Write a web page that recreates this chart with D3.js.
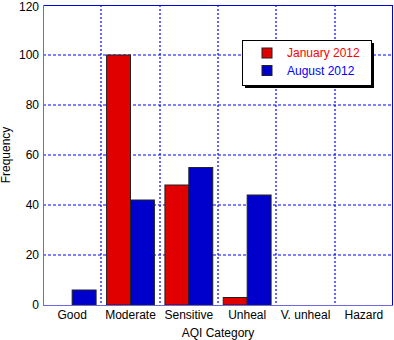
<!DOCTYPE html>
<html>
<head>
<meta charset="utf-8">
<script src="https://cdn.jsdelivr.net/npm/d3@7"></script>
<style>
  body { margin: 0; background: #fff; }
  svg { display: block; font-family: "Liberation Sans", Arial, sans-serif; }
</style>
</head>
<body>
<svg id="chart" width="394" height="340"></svg>
<script>
// data
var categories = ['Good', 'Moderate', 'Sensitive', 'Unheal', 'V. unheal', 'Hazard'];
var seriesNames = ['January 2012', 'August 2012'];
var january = [0, 100, 48, 3, 0, 0];
var august = [6, 42, 55, 44, 0, 0];
var yTicks = [0, 20, 40, 60, 80, 100, 120];
var colors = ['#e00000', '#0000cc'];

var svg = d3.select('#chart');
var margin = {top: 5, right: 1, bottom: 35, left: 43};
var width = +svg.attr('width') - margin.left - margin.right;
var height = +svg.attr('height') - margin.top - margin.bottom;

var g = svg.append('g')
  .attr('transform', 'translate(' + margin.left + ',' + margin.top + ')');

var x = d3.scaleBand().domain(categories).range([0, width]).paddingInner(0).paddingOuter(0);
var xInner = d3.scaleBand().domain([0, 1]).range([0, x.bandwidth() * 0.82]);
var y = d3.scaleLinear().domain([0, 120]).range([height, 0]);

// grid: horizontal dashed, vertical dotted at category boundaries
g.selectAll('.hgrid')
  .data(yTicks.slice(1, -1))
  .enter().append('line')
  .attr('class', 'hgrid')
  .attr('x1', 0).attr('x2', width)
  .attr('y1', function(d) { return y(d); })
  .attr('y2', function(d) { return y(d); })
  .attr('stroke', '#0000ff')
  .attr('stroke-width', 1.2)
  .attr('stroke-dasharray', '3,2');

g.selectAll('.vgrid')
  .data(categories.slice(1))
  .enter().append('line')
  .attr('class', 'vgrid')
  .attr('x1', function(d) { return Math.round(x(d)); })
  .attr('x2', function(d) { return Math.round(x(d)); })
  .attr('y1', 0).attr('y2', height)
  .attr('stroke', '#0000ff')
  .attr('stroke-width', 1.2)
  .attr('stroke-dasharray', '2,2');

// bars
var series = [january, august];
series.forEach(function(values, si) {
  g.selectAll('.bar' + si)
    .data(values.map(function(v, i) { return {cat: categories[i], value: v}; })
      .filter(function(d) { return d.value > 0; }))
    .enter().append('rect')
    .attr('class', 'bar' + si)
    .attr('x', function(d) {
      return x(d.cat) + x.bandwidth() * 0.09 + xInner(si);
    })
    .attr('y', function(d) { return y(d.value); })
    .attr('width', xInner.bandwidth())
    .attr('height', function(d) { return height - y(d.value); })
    .attr('fill', colors[si])
    .attr('stroke', '#222')
    .attr('stroke-width', 1);
});

// frame: top and right darker, left and bottom lighter
g.append('line').attr('x1', 0).attr('x2', width).attr('y1', 0.5).attr('y2', 0.5)
  .attr('stroke', '#0000e0');
g.append('line').attr('x1', width - 0.5).attr('x2', width - 0.5).attr('y1', 0).attr('y2', height)
  .attr('stroke', '#0000e0');
g.append('line').attr('x1', 0.5).attr('x2', 0.5).attr('y1', 0).attr('y2', height)
  .attr('stroke', '#6868e8');
g.append('line').attr('x1', 0).attr('x2', width).attr('y1', height + 0.5).attr('y2', height + 0.5)
  .attr('stroke', '#6868e8');

// axes (labels only)
var yAxis = g.append('g').call(d3.axisLeft(y).tickValues(yTicks).tickSize(0).tickPadding(4));
yAxis.select('.domain').remove();
yAxis.selectAll('text').attr('font-size', 12).attr('fill', '#000')
  .attr('font-family', '"Liberation Sans", Arial, sans-serif');
// keep the top label inside the window
yAxis.selectAll('.tick').filter(function(d) { return d === 120; })
  .select('text').attr('y', 2);

var xAxis = g.append('g')
  .attr('transform', 'translate(0,' + height + ')')
  .call(d3.axisBottom(x).tickSize(0).tickPadding(5));
xAxis.select('.domain').remove();
xAxis.selectAll('text').attr('font-size', 12).attr('fill', '#000')
  .attr('font-family', '"Liberation Sans", Arial, sans-serif');

svg.append('text')
  .attr('x', margin.left + width / 2)
  .attr('y', 337)
  .attr('text-anchor', 'middle')
  .attr('font-size', 12)
  .text('AQI Category');

svg.append('text')
  .attr('transform', 'translate(10,' + (margin.top + height / 2) + ') rotate(-90)')
  .attr('text-anchor', 'middle')
  .attr('font-size', 12)
  .text('Frequency');

// legend with drop shadow
var legend = svg.append('g').attr('transform', 'translate(242,40)');
legend.append('rect')
  .attr('x', 3).attr('y', 3).attr('width', 129).attr('height', 45)
  .attr('fill', '#000');
legend.append('rect')
  .attr('x', 0.5).attr('y', 0.5).attr('width', 129).attr('height', 45)
  .attr('fill', '#fff').attr('stroke', '#000');

seriesNames.forEach(function(name, i) {
  legend.append('rect')
    .attr('x', 20).attr('y', 8 + i * 17.5)
    .attr('width', 10).attr('height', 10)
    .attr('fill', colors[i]).attr('stroke', '#222');
  legend.append('text')
    .attr('x', 45).attr('y', 17 + i * 18)
    .attr('font-size', 12)
    .attr('fill', i === 0 ? '#ff0000' : '#0000ff')
    .text(name);
});
</script>
</body>
</html>
